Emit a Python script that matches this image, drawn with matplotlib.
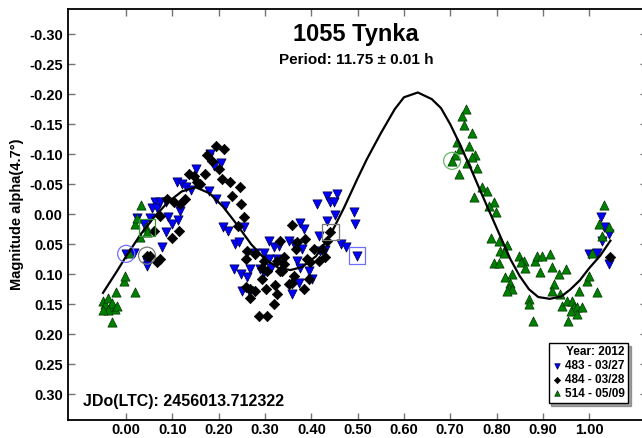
import matplotlib
matplotlib.use("Agg")
import matplotlib.pyplot as plt

plt.rcParams['font.family'] = ['Liberation Sans', 'DejaVu Sans']
plt.rcParams['font.weight'] = 'bold'

# session 483 - 03/27 (blue)
blue_phase = [0.000, 0.016, 0.024, 0.038, 0.045, 0.045, 0.052, 0.056, 0.063, 0.067,
              0.074, 0.085, 0.085, 0.078, 0.091, 0.100, 0.113, 0.117, 0.110, 0.120,
              0.130, 0.140, 0.150, 0.178, 0.180, 0.190, 0.204, 0.178, 0.195, 0.214,
              0.210, 0.220,
              0.254, 0.236, 0.243, 0.232, 0.247, 0.261, 0.251, 0.265, 0.279, 0.297,
              0.308, 0.319, 0.330, 0.308, 0.326, 0.268, 0.290, 0.297, 0.312, 0.351,
              0.362, 0.376, 0.384, 0.380, 0.369, 0.376, 0.394, 0.402, 0.373, 0.359,
              0.413, 0.434, 0.441, 0.448, 0.456, 0.452, 0.433, 0.416, 0.430, 0.418,
              0.463, 0.474, 0.492, 0.495, 0.499,
              1.025, 1.032, 1.042, 1.028, 0.999, 1.017, 1.042]
blue_mag = [0.066, 0.064, 0.006, 0.016, 0.080, 0.086, 0.006, -0.010, -0.020, -0.010,
            -0.020, -0.020, 0.030, 0.055, 0.005, 0.016, 0.010, -0.006, -0.053, -0.050,
            -0.045, -0.040, -0.075, -0.095, -0.100, -0.080, -0.086, -0.039, -0.025, -0.014,
            0.022, 0.028,
            0.022, 0.050, 0.047, 0.091, 0.100, 0.105, 0.128, 0.128, 0.064, 0.064,
            0.044, 0.055, 0.053, 0.075, 0.075, 0.091, 0.091, 0.097, 0.089, 0.044,
            0.050, 0.014, 0.025, 0.058, 0.078, 0.089, 0.094, 0.108, 0.114, 0.133,
            -0.017, -0.031, -0.020, -0.020, -0.034, 0.001, 0.011, 0.036, 0.060, 0.062,
            0.049, 0.055, -0.003, 0.016, 0.069,
            0.005, 0.022, 0.033, 0.044, 0.066, 0.064, 0.083]

# session 484 - 03/28 (black)
black_phase = [0.193, 0.211, 0.175, 0.186, 0.200, 0.135, 0.146, 0.153, 0.160, 0.171,
               0.207, 0.089, 0.103, 0.117, 0.128, 0.074, 0.099, 0.114, 0.067, 0.074,
               0.052, 0.045, 0.060,
               0.225, 0.245, 0.229, 0.248, 0.254, 0.241, 0.260, 0.258, 0.279, 0.294,
               0.301, 0.268, 0.279, 0.322, 0.326, 0.319, 0.286, 0.305, 0.333, 0.340,
               0.340, 0.337, 0.359, 0.369, 0.387, 0.366, 0.359, 0.351, 0.362, 0.384,
               0.394, 0.391, 0.398, 0.405, 0.416, 0.423, 0.430, 0.434, 0.441, 0.294,
               0.305, 0.297, 0.326, 0.333, 0.258, 0.268,
               1.046]
black_mag = [-0.114, -0.109, -0.098, -0.089, -0.075, -0.067, -0.064, -0.053, -0.050, -0.067,
             -0.059, -0.025, -0.020, -0.017, -0.025, 0.003, 0.039, 0.028, 0.080, 0.075,
             0.069, 0.069, 0.028,
             -0.053, -0.046, -0.031, -0.017, 0.004, 0.019, 0.062, 0.075, 0.066, 0.108,
             0.125, 0.139, 0.128, 0.118, 0.133, 0.149, 0.169, 0.169, 0.044, 0.072,
             0.083, 0.094, 0.018, 0.047, 0.041, 0.058, 0.114, 0.116, 0.103, 0.125,
             0.108, 0.075, 0.080, 0.058, 0.078, 0.058, 0.072, 0.044, 0.030, 0.089,
             0.094, 0.078, 0.078, 0.094, 0.122, 0.125,
             0.071]

# session 514 - 05/09 (green)
green_phase = [-0.050, -0.045, -0.040, -0.035, -0.030, -0.025, -0.040, -0.050, -0.020, -0.030,
               -0.021, 0.019, -0.005, -0.002, 0.006, 0.020, 0.024, 0.029, 0.031, 0.043,
               0.045,
               0.733, 0.726, 0.729, 0.747, 0.715, 0.740, 0.722, 0.754, 0.747, 0.736,
               0.711, 0.704, 0.718, 0.758, 0.769, 0.780, 0.751, 0.794, 0.783, 0.798,
               0.787, 0.805, 0.823, 0.808, 0.816, 0.848, 0.859, 0.852, 0.862, 0.794,
               0.805, 0.819, 0.834, 0.830, 0.826, 0.834, 0.823, 0.870, 0.870, 0.884,
               0.888, 0.898, 0.916, 0.920, 0.934, 0.949, 0.893, 0.924, 0.920, 0.938,
               0.942, 0.952, 0.963, 0.967, 0.974, 0.985, 0.978, 0.960, 0.974, 0.996,
               0.999, 1.017, 1.032, 1.021, 1.028, 1.042, 1.006, 0.878, 0.955]
green_mag = [0.145, 0.150, 0.140, 0.155, 0.148, 0.158, 0.160, 0.160, 0.153, 0.180,
             0.130, 0.130, 0.111, 0.103, 0.064, 0.016, 0.006, 0.038, -0.016, 0.022,
             0.030,
             -0.175, -0.164, -0.148, -0.136, -0.120, -0.114, -0.109, -0.098, -0.096, -0.086,
             -0.098, -0.089, -0.067, -0.077, -0.045, -0.039, -0.029, -0.021, -0.014, -0.003,
             0.039, 0.044, 0.051, 0.061, 0.064, 0.069, 0.078, 0.080, 0.089, 0.082,
             0.082, 0.104, 0.099, 0.114, 0.123, 0.125, 0.128, 0.141, 0.149, 0.078,
             0.069, 0.069, 0.066, 0.088, 0.099, 0.091, 0.097, 0.116, 0.128, 0.133,
             0.153, 0.144, 0.144, 0.155, 0.155, 0.155, 0.128, 0.161, 0.166, 0.111,
             0.103, 0.129, -0.016, 0.016, 0.036, 0.022, 0.064, 0.178, 0.178]

# Fourier fit curve
fit_phase = [-0.05, -0.02, 0.00, 0.03, 0.06, 0.09, 0.12, 0.15, 0.18, 0.21,
             0.24, 0.27, 0.30, 0.33, 0.355, 0.38, 0.41, 0.44, 0.47, 0.50,
             0.52, 0.55, 0.58, 0.60, 0.63, 0.66, 0.68, 0.70, 0.72, 0.745,
             0.765, 0.79, 0.81, 0.83, 0.85, 0.87, 0.89, 0.915, 0.94, 0.96,
             0.98, 1.00, 1.024, 1.046]
fit_mag = [0.131, 0.095, 0.070, 0.035, 0.005, -0.020, -0.038, -0.045, -0.035, -0.012,
           0.018, 0.050, 0.075, 0.090, 0.093, 0.088, 0.070, 0.036, -0.010, -0.060,
           -0.092, -0.135, -0.175, -0.195, -0.203, -0.192, -0.177, -0.150, -0.118, -0.075,
           -0.039, 0.005, 0.040, 0.075, 0.103, 0.125, 0.138, 0.141, 0.137, 0.125,
           0.110, 0.090, 0.069, 0.044]

# first / last point markers of each session
ring_phase = [0.000, 0.045, 0.704]
ring_mag = [0.066, 0.069, -0.089]
ring_colors = ['#6f6fff', '#777777', '#66bb66']
box_phase = [0.045, 0.441, 0.499]
box_mag = [0.022, 0.030, 0.069]
box_colors = ['#339933', '#777777', '#6f6fff']

fig = plt.figure(figsize=(6.42, 4.38), dpi=100)
ax = fig.add_axes([68.3 / 642, 18 / 438, 578.7 / 642, 411.5 / 438])

ax.scatter(blue_phase, blue_mag, marker='v', s=44, c='#0000ff', edgecolors='#00003a',
           linewidths=0.5, label='483 - 03/27', zorder=3)
ax.scatter(black_phase, black_mag, marker='D', s=28, c='black', edgecolors='black',
           linewidths=0.5, label='484 - 03/28', zorder=3)
ax.scatter(green_phase, green_mag, marker='^', s=44, c='#008000', edgecolors='#003300',
           linewidths=0.5, label='514 - 05/09', zorder=3)
ax.plot(fit_phase, fit_mag, color='black', lw=1.6, zorder=4)

ax.scatter(ring_phase, ring_mag, marker='o', s=150, facecolors='none',
           edgecolors=ring_colors, linewidths=0.9, zorder=5)
ax.scatter(box_phase, box_mag, marker='s', s=140, facecolors='none',
           edgecolors=box_colors, linewidths=0.9, zorder=5)

ax.set_xlim(-0.125, 1.125)
ax.set_ylim(0.343, -0.343)
ax.set_xticks([i / 10 for i in range(11)])
ax.set_yticks([i / 100 for i in range(-30, 31, 5)])
ax.xaxis.set_major_formatter(matplotlib.ticker.FormatStrFormatter('%.2f'))
ax.yaxis.set_major_formatter(matplotlib.ticker.FormatStrFormatter('%.2f'))
ax.tick_params(direction='in', top=True, right=True, length=5, width=1,
               color='0.45', labelsize=10.5, pad=4)
ax.tick_params(axis='x', pad=2)
for s in ax.spines.values():
    s.set_linewidth(1.3)

fig.text(356 / 642, 1 - 35 / 438, '1055 Tynka', fontsize=17, ha='center', va='center')
fig.text(356 / 642, 1 - 60 / 438, 'Period: 11.75 ± 0.01 h', fontsize=11,
         ha='center', va='center')
fig.text(17 / 642, 1 - 214 / 438, 'Magnitude alpha(4.7°)', fontsize=10.5,
         rotation=90, ha='center', va='center')
ax.text(0.025, 0.044, 'JDo(LTC): 2456013.712322', fontsize=11.5,
        transform=ax.transAxes, va='center')

leg = ax.legend(loc='lower right', bbox_to_anchor=(0.968, 0.041), borderaxespad=0,
                title='Year: 2012', alignment='right', fontsize=8.5, title_fontsize=8.5,
                fancybox=False, shadow=True, edgecolor='black', framealpha=1,
                markerscale=0.6, handlelength=0.8, handletextpad=0.3,
                borderpad=0.3, labelspacing=0.15)
leg.get_title().set_fontweight('bold')

fig.savefig('out.png', dpi=100)
